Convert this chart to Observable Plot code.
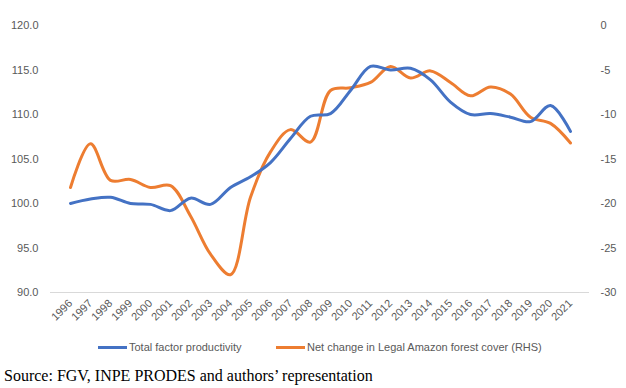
<!DOCTYPE html>
<html>
<head>
<meta charset="utf-8">
<script src="https://cdn.jsdelivr.net/npm/d3@7"></script>
<script src="https://cdn.jsdelivr.net/npm/@observablehq/plot@0.6"></script>
<style>
  html, body { margin: 0; padding: 0; background: #fff; }
  #wrap { position: relative; width: 626px; height: 388px; overflow: hidden; }
  .leg { position: absolute; top: 339px; left: 0; width: 626px; height: 16px; font-family: "Liberation Sans", Arial, sans-serif; font-size: 11px; color: #595959; }
  .item { position: absolute; top: 0; display: flex; align-items: center; height: 16px; white-space: nowrap; }
  .sw { width: 29px; height: 3px; margin-right: 2px; }
  .src { position: absolute; left: 4px; top: 367px; font-family: "Liberation Serif", "Times New Roman", serif; font-size: 16px; color: #000; white-space: nowrap; }
</style>
</head>
<body>
<div id="wrap">
  <div id="chart"></div>
  <div class="leg">
    <div class="item" style="left:98px"><div class="sw" id="sw0"></div><span id="lab0"></span></div>
    <div class="item" style="left:276px"><div class="sw" id="sw1"></div><span id="lab1"></span></div>
  </div>
  <div class="src" id="src"></div>
</div>
<script>
const years = ["1996","1997","1998","1999","2000","2001","2002","2003","2004","2005","2006","2007","2008","2009","2010","2011","2012","2013","2014","2015","2016","2017","2018","2019","2020","2021"];
const tfp = [100.0,100.5,100.7,100.0,99.9,99.2,100.6,99.9,101.8,103.0,104.6,107.3,109.8,110.1,112.7,115.4,115.0,115.2,113.9,111.4,110.0,110.1,109.7,109.2,111.0,108.1];
const forest = [-18.2,-13.3,-17.4,-17.3,-18.2,-18.0,-21.4,-25.7,-28.0,-19.3,-14.2,-11.7,-13.1,-7.3,-7.0,-6.4,-4.6,-5.9,-5.1,-6.4,-7.9,-6.9,-7.7,-10.3,-11.0,-13.2];
const leftTicks = [90,95,100,105,110,115,120];
const rightOffset = 120; // right axis value = left axis value - 120
const seriesNames = ["Total factor productivity", "Net change in Legal Amazon forest cover (RHS)"];
const colors = ["#4472C4", "#ED7D31"];
const sourceText = "Source: FGV, INPE PRODES and authors\u2019 representation";

const tfpData = years.map((y, i) => ({year: y, v: tfp[i]}));
const forestData = years.map((y, i) => ({year: y, v: forest[i] + rightOffset}));

const chart = Plot.plot({
  width: 626,
  height: 330,
  marginLeft: 50,
  marginRight: 37,
  marginTop: 25,
  marginBottom: 38,
  style: {fontFamily: "'Liberation Sans', Arial, sans-serif", fontSize: "11px", color: "#595959", background: "#fff"},
  x: {type: "point", domain: years, padding: 0.5},
  y: {domain: [90, 120]},
  marks: [
    Plot.ruleY([90], {stroke: "#d9d9d9", strokeWidth: 1}),
    Plot.axisY({ticks: leftTicks, anchor: "left", tickSize: 0, tickPadding: 12, tickFormat: d3.format(".1f"), label: null, fill: "#595959"}),
    Plot.axisY({ticks: leftTicks, anchor: "right", tickSize: 0, tickPadding: 11, tickFormat: d => String(d - rightOffset), label: null, textAnchor: "start", fill: "#595959"}),
    Plot.axisX({tickRotate: -45, tickSize: 0, tickPadding: 9, label: null, fill: "#595959"}),
    Plot.line(forestData, {x: "year", y: "v", stroke: colors[1], strokeWidth: 3, curve: "catmull-rom"}),
    Plot.line(tfpData, {x: "year", y: "v", stroke: colors[0], strokeWidth: 3, curve: "catmull-rom"})
  ]
});
document.getElementById("chart").appendChild(chart);
document.getElementById("sw0").style.background = colors[0];
document.getElementById("sw1").style.background = colors[1];
document.getElementById("lab0").textContent = seriesNames[0];
document.getElementById("lab1").textContent = seriesNames[1];
document.getElementById("src").textContent = sourceText;
</script>
</body>
</html>
